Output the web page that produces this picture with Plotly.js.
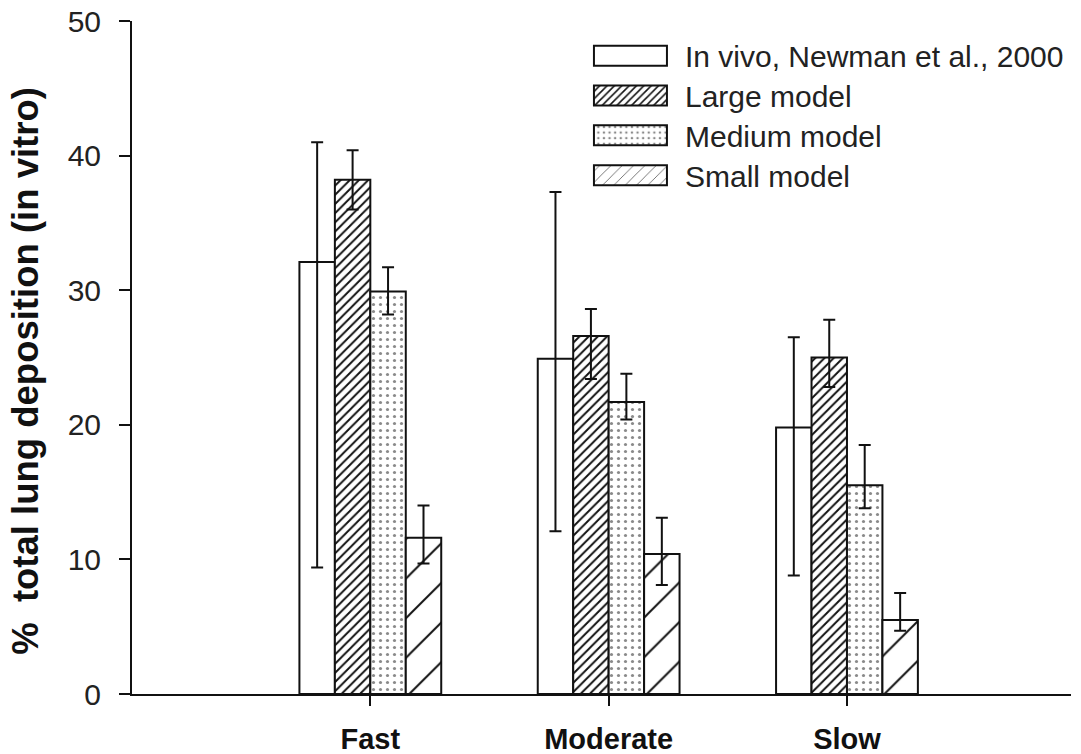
<!DOCTYPE html>
<html><head><meta charset="utf-8">
<script src="https://cdn.plot.ly/plotly-3.0.1.min.js"></script>
<style>html,body{margin:0;padding:0;background:#fff}</style>
</head><body>
<div id="chart" style="width:1081px;height:754px"></div>
<script>
var categories = ["Fast", "Moderate", "Slow"];
var seriesNames = ["In vivo, Newman et al., 2000", "Large model", "Medium model", "Small model"];
var invivo = [32.1, 24.9, 19.8];
var invivoHi = [41.0, 37.3, 26.5];
var invivoLo = [9.4, 12.1, 8.8];
var large = [38.2, 26.6, 25.0];
var largeHi = [40.4, 28.6, 27.8];
var largeLo = [36.0, 23.4, 22.8];
var medium = [29.9, 21.7, 15.5];
var mediumHi = [31.7, 23.8, 18.5];
var mediumLo = [28.2, 20.4, 13.8];
var small = [11.6, 10.4, 5.5];
var smallHi = [14.0, 13.1, 7.5];
var smallLo = [9.7, 8.1, 4.7];
var yTicks = [0, 10, 20, 30, 40, 50];
var yTitle = "%  total lung deposition (in vitro)";

function diff(a, b) { return a.map(function (v, i) { return Math.abs(v - b[i]); }); }

var patterns = [
  {shape: "", fillmode: "replace"},
  {shape: "/", size: 6.5, solidity: 0.3, fgcolor: "#111", bgcolor: "#fff", fillmode: "replace"},
  {shape: ".", size: 7, solidity: 0.16, fgcolor: "#8a8a8a", bgcolor: "#fff", fillmode: "replace"},
  {shape: "/", size: 28, solidity: 0.07, fgcolor: "#111", bgcolor: "#fff", fillmode: "replace"}
];
var vals = [invivo, large, medium, small];
var his = [invivoHi, largeHi, mediumHi, smallHi];
var los = [invivoLo, largeLo, mediumLo, smallLo];

var traces = seriesNames.map(function (name, k) {
  return {
    type: "bar", name: name, x: categories, y: vals[k],
    marker: {color: "#fff", line: {color: "#111", width: 2}, pattern: patterns[k]},
    error_y: {type: "data", symmetric: false, array: diff(his[k], vals[k]), arrayminus: diff(vals[k], los[k]),
      color: "#111", thickness: 2, width: 6}
  };
});

var layout = {
  width: 1081, height: 754,
  margin: {l: 132, r: 10, t: 21, b: 60},
  paper_bgcolor: "#fff", plot_bgcolor: "#fff",
  barmode: "group", bargap: 0.405, bargroupgap: 0,
  font: {family: "Liberation Sans, Arial, sans-serif", color: "#111"},
  showlegend: true,
  legend: {x: 0.4877, y: 0.987, xanchor: "left", yanchor: "top", bgcolor: "rgba(0,0,0,0)",
    font: {size: 30, color: "#222"}, itemwidth: 85},
  xaxis: {type: "category", range: [-1, 2.94], showline: true, linecolor: "#111", linewidth: 2,
    ticks: "outside", ticklen: 10, tickwidth: 2, tickcolor: "#111", showgrid: false, zeroline: false,
    ticklabelstandoff: 8,
    tickfont: {size: 29, weight: "bold", color: "#111"}},
  yaxis: {range: [0, 50], tickvals: yTicks, ticktext: yTicks.map(String), showline: true, linecolor: "#111", linewidth: 2,
    ticks: "outside", ticklen: 11, tickwidth: 2, tickcolor: "#111", showgrid: false, zeroline: false,
    ticklabelstandoff: 12,
    tickfont: {size: 30, color: "#222"}},
  annotations: [{text: yTitle, textangle: -90, showarrow: false, xref: "paper", yref: "paper",
    x: -0.113, y: 0.48, xanchor: "center", yanchor: "middle",
    font: {size: 36.5, weight: "bold", color: "#111"}}]
};

Plotly.newPlot("chart", traces, layout, {displayModeBar: false, staticPlot: true}).then(function (gd) {
  var items = gd.querySelectorAll(".legend g.traces");
  var baseY = null;
  items.forEach(function (it, i) {
    var txt = it.querySelector("text.legendtext");
    var tx = parseFloat(txt.getAttribute("x")) || 40;
    var pts = it.querySelector("g.legendpoints");
    var path = pts.querySelector("path");
    var el = path;
    while (el && el !== it) {
      if (el.getAttribute && el.getAttribute("transform")) el.setAttribute("transform", "");
      el = el.parentNode;
    }
    var x0 = tx - 18 - 73, x1 = tx - 18;
    path.setAttribute("d", "M" + x0 + ",-10H" + x1 + "V10H" + x0 + "Z");
    var m = /translate\(\s*([-\d.]+)[ ,]+([-\d.]+)/.exec(it.getAttribute("transform") || "");
    if (m) {
      if (baseY === null) baseY = parseFloat(m[2]);
      it.setAttribute("transform", "translate(" + m[1] + "," + (baseY + i * 39.8) + ")");
    }
  });
});
</script>
</body></html>
